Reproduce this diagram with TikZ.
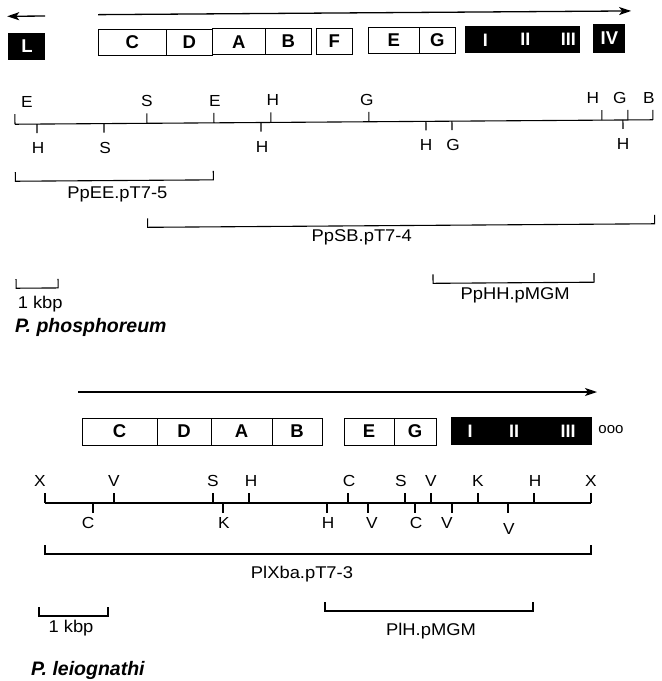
\documentclass[tikz,border=0pt]{standalone}
\usepackage{fontspec}
\setmainfont{Liberation Sans}
\newfontfamily\lblfont[FakeStretch=1.08]{Liberation Sans}
\usetikzlibrary{arrows.meta}

\begin{document}
\begin{tikzpicture}[x=1pt,y=-1pt,
  mline/.style={line width=1.1pt},
  dirarrow/.style={line width=1.3pt,-{Stealth[length=12pt,width=8pt,inset=3pt]}},
  site/.style={inner sep=0pt,font=\lblfont\fontsize{16}{16}\selectfont},
  clonelbl/.style={inner sep=0pt,font=\lblfont\fontsize{17}{17}\selectfont},
  gbox/.style={draw,line width=0.9pt,fill=white,inner sep=0pt,minimum height=26pt,
    font=\bfseries\fontsize{18.5}{18.5}\selectfont},
  bbox/.style={fill=black,inner sep=0pt,minimum height=27pt,text=white,
    font=\bfseries\fontsize{18.5}{18.5}\selectfont},
  numeral/.style={inner sep=0pt,text=white,font=\bfseries\fontsize{18}{18}\selectfont},
  species/.style={inner sep=0pt,anchor=west,font=\bfseries\itshape\fontsize{19.5}{19.5}\selectfont}]
\useasboundingbox (0,0) rectangle (662,681);

% ---------------- P. phosphoreum ----------------
\begin{scope}[rotate around={0.4:(335,130)}]
  % transcription directions
  \coordinate (pl0) at (46,14);  \coordinate (pl1) at (8,14);
  \coordinate (pr0) at (99,13);  \coordinate (pr1) at (632,13);
  \draw[dirarrow] (pl0) -- (pl1);
  \draw[dirarrow] (pr0) -- (pr1);

  % gene boxes
  \node[bbox,minimum width=37pt] (pL) at (27.5,44) {L};
  \node[gbox,minimum width=68pt] (pC) at (133,41) {C};
  \node[gbox,minimum width=46pt] (pD) at (190,41) {D};
  \node[gbox,minimum width=53pt] (pA) at (239.5,41) {A};
  \node[gbox,minimum width=46pt] (pB) at (289,41) {B};
  \node[gbox,minimum width=36pt] (pF) at (335,41) {F};
  \node[gbox,minimum width=51pt] (pE) at (394.5,41) {E};
  \node[gbox,minimum width=36pt] (pG) at (438,41) {G};
  \node[bbox,minimum width=115pt] (pLux) at (523.5,41) {};
  \node[numeral] (pI)   at (486,41) {I};
  \node[numeral] (pII)  at (526,41) {II};
  \node[numeral] (pIII) at (569,41) {III};
  \node[bbox,minimum width=32pt,minimum height=29pt] (pIV) at (610,40.5) {IV};

  % restriction map
  \coordinate (pm0) at (15,122); \coordinate (pm1) at (653,122);
  \draw[mline] (pm0) -- (pm1);
  \foreach \t/\lx/\txt [count=\i] in
    {15/27/E,147/147/S,214/215/E,271/273/H,369/367/G,602/593/H,628/620/G,653/649/B}
  {
    \draw[mline] (\t,122) -- (\t,112);
    \node[site] (pa\i) at (\lx,100) {\txt};
  }
  \foreach \t/\lx/\txt [count=\i] in
    {37/38/H,104/105/S,261/262/H,426/426/H,452/453/G,623/623/H}
  {
    \draw[mline] (\t,122) -- (\t,131);
    \node[site] (pb\i) at (\lx,146) {\txt};
  }

  % cloned fragments
  \draw[mline] (15,170) |- (213,179) -- (213,170);
  \node[clonelbl] (pEE) at (117,193) {PpEE.pT7-5};
  \draw[mline] (147,217) |- (654,226) -- (654,217);
  \node[clonelbl] (pSB) at (361,238) {PpSB.pT7-4};
  \draw[mline] (432,275) |- (593,284) -- (593,275);
  \node[clonelbl] (pHH) at (514,297) {PpHH.pMGM};

  % scale bar
  \draw[mline] (15,277) |- (57,286) -- (57,277);
  \node[clonelbl] (pkb) at (39,302) {1 kbp};
\end{scope}
\node[species] (pspec) at (15,327) {P. phosphoreum};

% ---------------- P. leiognathi ----------------
\coordinate (lr0) at (78,392); \coordinate (lr1) at (597,392);
\draw[dirarrow] (lr0) -- (lr1);

\node[gbox,minimum width=75pt,minimum height=27pt] (lC) at (119.5,431.5) {C};
\node[gbox,minimum width=54pt,minimum height=27pt] (lD) at (184,431.5) {D};
\node[gbox,minimum width=61pt,minimum height=27pt] (lA) at (241.5,431.5) {A};
\node[gbox,minimum width=50pt,minimum height=27pt] (lB) at (297,431.5) {B};
\node[gbox,minimum width=50pt,minimum height=27pt] (lE) at (369,431.5) {E};
\node[gbox,minimum width=42pt,minimum height=27pt] (lG) at (415,431.5) {G};
\node[bbox,minimum width=141pt,minimum height=28pt] (lLux) at (521.5,431) {};
\node[numeral] (lI)   at (470,431) {I};
\node[numeral] (lII)  at (514,431) {II};
\node[numeral] (lIII) at (568,431) {III};
\node[inner sep=0pt,font=\fontsize{15}{15}\selectfont] (looo) at (611,430) {ooo};

% restriction map
\coordinate (lm0) at (45,503); \coordinate (lm1) at (591,503);
\draw[mline] (lm0) -- (lm1);
\foreach \t/\lx/\txt [count=\i] in
  {45/40/X,114/114/V,213/213/S,249/251/H,348/349/C,405/401/S,431/431/V,478/478/K,534/535/H,591/591/X}
{
  \draw[mline] (\t,503) -- (\t,493);
  \node[site] (la\i) at (\lx,481) {\txt};
}
\foreach \t/\lx/\ly/\txt [count=\i] in
  {93/88/523/C,223/224/523/K,327/328/523/H,368/372/523/V,415/416/523/C,452/447/523/V,508/509/529/V}
{
  \draw[mline] (\t,503) -- (\t,513);
  \node[site] (lb\i) at (\lx,\ly) {\txt};
}

% cloned fragments
\draw[mline] (45,545) |- (591,554) -- (591,545);
\node[clonelbl] (lXba) at (302,574) {PlXba.pT7-3};
\draw[mline] (325,602) |- (533,611) -- (533,602);
\node[clonelbl] (lH) at (431,631) {PlH.pMGM};

% scale bar
\draw[mline] (39,607) |- (108,616) -- (108,607);
\node[clonelbl] (lkb) at (71,628) {1 kbp};

\node[species] (lspec) at (31,670) {P. leiognathi};
\end{tikzpicture}
\end{document}
